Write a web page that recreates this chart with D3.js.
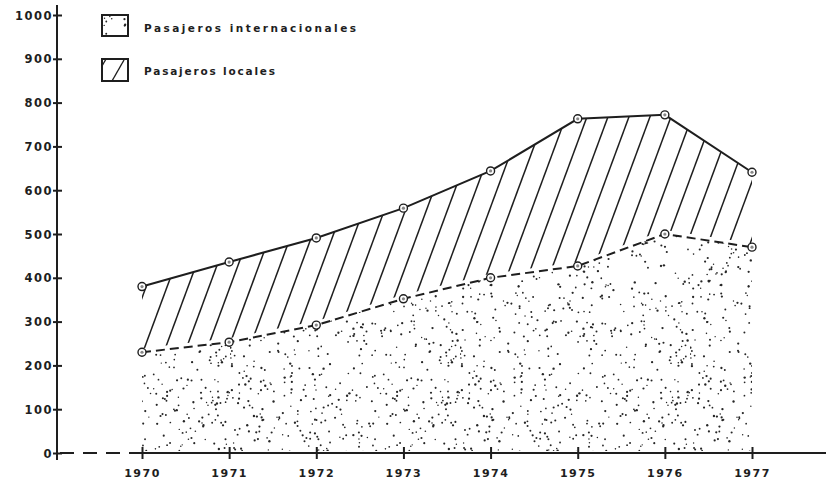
<!DOCTYPE html>
<html>
  <head>
    <meta charset="UTF-8">
    <style>
      body { margin: 0; background: #fff; }
      svg text { font-family: "DejaVu Sans", sans-serif; font-weight: bold; fill: #1e1e1e; }
      .tick text { letter-spacing: 1.5px; }
    </style>
    <script src="https://d3js.org/d3.v7.min.js"></script>
  </head>
  <body>
    <script>
      // values (thousands of passengers)
      var years = [1970, 1971, 1972, 1973, 1974, 1975, 1976, 1977];
      var internacionales = [230, 253, 292, 352, 400, 427, 500, 470];
      var locales = [150, 183, 199, 207, 244, 336, 272, 171];
      var yTicks = [0, 100, 200, 300, 400, 500, 600, 700, 800, 900, 1000];
      var legendLabels = ["Pasajeros internacionales", "Pasajeros locales"];

      var width = 830, height = 481, ink = "#1e1e1e";

      var x = d3.scaleLinear().domain([1970, 1977]).range([142, 752]);
      var y = d3.scaleLinear().domain([0, 1000]).range([453, 15]);

      var rows = years.map(function(yr, i) {
        return { year: yr, internacionales: internacionales[i], locales: locales[i] };
      });
      var series = d3.stack().keys(["internacionales", "locales"])(rows);

      var svg = d3.select("body").append("svg")
        .attr("width", width)
        .attr("height", height);

      var defs = svg.append("defs");

      // stipple texture (big tile so the repeat is not obvious)
      var rnd = d3.randomLcg(0.37);
      var dots = defs.append("pattern")
        .attr("id", "dots")
        .attr("patternUnits", "userSpaceOnUse")
        .attr("width", 230).attr("height", 230);
      for (var k = 0; k < 700; k++) {
        dots.append("circle")
          .attr("cx", rnd() * 230)
          .attr("cy", rnd() * 230)
          .attr("r", 0.7 + rnd() * 0.5)
          .attr("fill", "#262626");
      }

      var areaIntl = d3.area()
        .x(function(d) { return x(d.data.year); })
        .y0(function(d) { return y(d[0]) - 2; })
        .y1(function(d) { return y(d[1]); });

      var areaLocal = d3.area()
        .x(function(d) { return x(d.data.year); })
        .y0(function(d) { return y(d[0]) - 4; })
        .y1(function(d) { return y(d[1]); });

      defs.append("clipPath").attr("id", "clipLocal")
        .append("path").attr("d", areaLocal(series[1]));

      // stippled international area
      svg.append("path")
        .attr("d", areaIntl(series[0]))
        .attr("fill", "url(#dots)");

      // hatched local area
      var hatch = svg.append("g").attr("clip-path", "url(#clipLocal)");
      for (var hx = 40; hx < 800; hx += 21) {
        hatch.append("line")
          .attr("x1", hx).attr("y1", 460)
          .attr("x2", hx + 0.37 * 460).attr("y2", 0)
          .attr("stroke", ink).attr("stroke-width", 1.5);
      }

      // y axis
      var yAxis = svg.append("g")
        .attr("transform", "translate(57,0)")
        .call(d3.axisLeft(y).tickValues(yTicks).tickFormat(d3.format("d")).tickSize(5).tickPadding(4));
      yAxis.select(".domain").remove();
      yAxis.selectAll(".tick line").attr("x1", -4).attr("x2", 5)
        .attr("stroke", ink).attr("stroke-width", 2);
      yAxis.selectAll(".tick text").attr("x", -4).attr("dy", "0.36em")
        .attr("font-size", 11.5);
      svg.append("line")
        .attr("x1", 57).attr("x2", 57)
        .attr("y1", y(1000) - 10).attr("y2", y(0) + 7)
        .attr("stroke", ink).attr("stroke-width", 2);

      // x axis
      svg.append("line")
        .attr("x1", 60).attr("x2", x(1970))
        .attr("y1", y(0)).attr("y2", y(0))
        .attr("stroke", ink).attr("stroke-width", 2)
        .attr("stroke-dasharray", "14,9");
      svg.append("line")
        .attr("x1", x(1970)).attr("x2", 826)
        .attr("y1", y(0)).attr("y2", y(0))
        .attr("stroke", ink).attr("stroke-width", 2);
      var xAxis = svg.append("g")
        .attr("transform", "translate(0," + y(0) + ")")
        .call(d3.axisBottom(x).tickValues(years).tickFormat(d3.format("d")).tickSize(6).tickPadding(10));
      xAxis.select(".domain").remove();
      xAxis.selectAll(".tick line").attr("y1", -6).attr("y2", 6)
        .attr("stroke", ink).attr("stroke-width", 2);
      xAxis.selectAll(".tick text").attr("font-size", 11);

      // boundary lines
      var lineIntl = d3.line()
        .x(function(d) { return x(d.data.year); })
        .y(function(d) { return y(d[1]); });
      svg.append("path")
        .attr("d", lineIntl(series[0]))
        .attr("fill", "none").attr("stroke", ink)
        .attr("stroke-width", 2).attr("stroke-dasharray", "9,5");
      svg.append("path")
        .attr("d", lineIntl(series[1]))
        .attr("fill", "none").attr("stroke", ink)
        .attr("stroke-width", 2);

      // point markers
      series.forEach(function(s) {
        var g = svg.append("g").selectAll("g").data(s).enter().append("g")
          .attr("transform", function(d) { return "translate(" + x(d.data.year) + "," + y(d[1]) + ")"; });
        g.append("circle").attr("r", 4)
          .attr("fill", "#fff").attr("stroke", ink).attr("stroke-width", 1.4);
        g.append("circle").attr("r", 1.6).attr("fill", "#888");
      });

      // legend
      var leg = svg.append("g");
      leg.append("rect").attr("x", 102).attr("y", 15).attr("width", 26).attr("height", 21)
        .attr("fill", "url(#dots)").attr("stroke", ink).attr("stroke-width", 2);
      leg.append("rect").attr("x", 102).attr("y", 59).attr("width", 26).attr("height", 22)
        .attr("fill", "#fff").attr("stroke", ink).attr("stroke-width", 2);
      leg.append("line").attr("x1", 112).attr("y1", 81).attr("x2", 124).attr("y2", 60)
        .attr("stroke", ink).attr("stroke-width", 1.4);
      leg.append("line").attr("x1", 102).attr("y1", 66).attr("x2", 106).attr("y2", 59)
        .attr("stroke", ink).attr("stroke-width", 1.4);
      leg.selectAll("text").data(legendLabels).enter().append("text")
        .attr("x", 144)
        .attr("y", function(d, i) { return i === 0 ? 29 : 72; })
        .attr("dy", "0.32em")
        .attr("font-size", 10.5)
        .attr("textLength", function(d, i) { return i === 0 ? 212 : 131; })
        .attr("lengthAdjust", "spacing")
        .text(function(d) { return d; });
    </script>
  </body>
</html>
